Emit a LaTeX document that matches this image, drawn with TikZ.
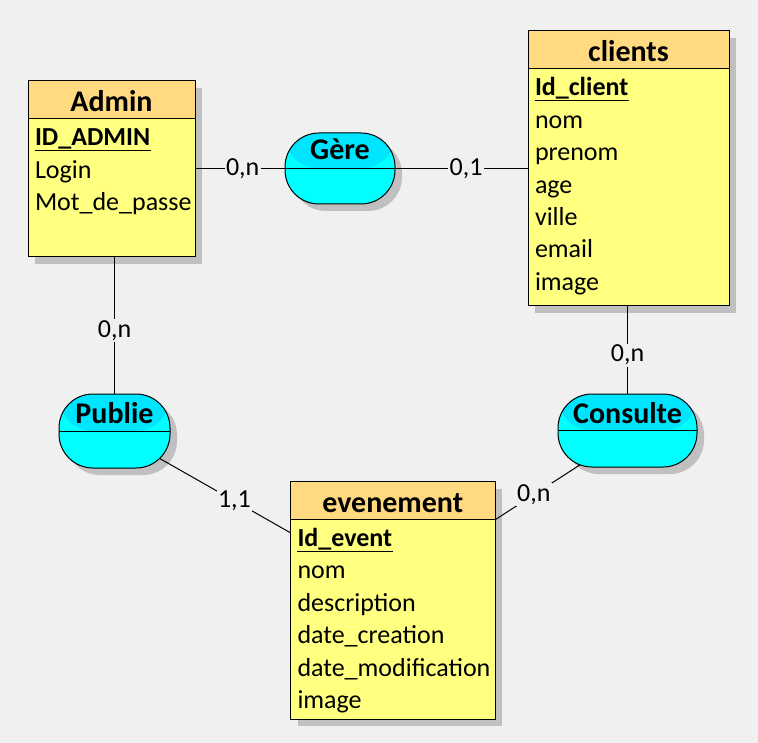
\documentclass[tikz,border=0pt]{standalone}
\usepackage{fontspec}
\setmainfont{Carlito}
\usetikzlibrary{calc,positioning,shadows}
\definecolor{fond}{RGB}{240,240,240}
\definecolor{orangeclair}{RGB}{255,218,128}
\definecolor{jaune}{RGB}{255,255,128}
\definecolor{cyanhaut}{RGB}{0,229,255}
\definecolor{cyanbas}{RGB}{0,255,255}
\definecolor{ombre}{RGB}{192,192,192}
\newcommand{\attfont}{\fontsize{26}{31}\selectfont}
\newcommand{\titfont}{\fontsize{30}{35}\selectfont\bfseries}
\tikzset{
  entite/.style     = {shape=rectangle, draw, fill=jaune, inner sep=0pt,
                       drop shadow={shadow xshift=7pt, shadow yshift=-7pt,
                                    fill=ombre, opacity=1}},
  titre/.style      = {shape=rectangle, draw, fill=orangeclair,
                       minimum height=38pt, inner sep=0pt,
                       text height=23pt, text depth=0pt, font=\titfont},
  attribut/.style   = {anchor=base west, inner sep=0pt, font=\attfont},
  cle/.style        = {attribut, font=\attfont\bfseries},
  assoc/.style      = {shape=rectangle, draw, fill=cyanbas, inner sep=0pt,
                       rounded corners=34pt,
                       drop shadow={shadow xshift=7pt, shadow yshift=-7pt,
                                    fill=ombre, opacity=1},
                       path picture={
                         \fill[cyanhaut] (path picture bounding box.north west)
                           rectangle (path picture bounding box.east);
                         \draw (path picture bounding box.west)
                           -- (path picture bounding box.east);}},
  assoctexte/.style = {anchor=base, inner sep=0pt, font=\titfont},
  card/.style       = {fill=fond, inner sep=1.5pt, font=\attfont}
}

\begin{document}
\begin{tikzpicture}[x=1pt, y=-1pt, line width=1pt]
  \fill[fond] (0,0) rectangle (758,743);
  \useasboundingbox (0,0) rectangle (758,743);

  % entites
  \node[entite, minimum width=167pt, minimum height=176pt] (admin) at (111.5,169) {};
  \node[titre, minimum width=167pt, anchor=north] (admin-h) at (admin.north) {Admin};
  \node[cle] (admin-0) at ($(admin.north west)+(7,65.5)$) {ID\_ADMIN};
  \foreach \a [count=\i] in {Login, Mot\_de\_passe}
    \node[attribut] (admin-\i) at ($(admin.north west)+(7,{65.5+32.4*\i})$) {\a};

  \node[entite, minimum width=201pt, minimum height=275pt] (clients) at (628.5,168.5) {};
  \node[titre, minimum width=201pt, anchor=north] (clients-h) at (clients.north) {clients};
  \node[cle] (clients-0) at ($(clients.north west)+(7,65.5)$) {Id\_client};
  \foreach \a [count=\i] in {nom, prenom, age, ville, email, image}
    \node[attribut] (clients-\i) at ($(clients.north west)+(7,{65.5+32.4*\i})$) {\a};

  \node[entite, minimum width=204.5pt, minimum height=237.5pt] (evenement) at (392.75,600.25) {};
  \node[titre, minimum width=204.5pt, anchor=north] (evenement-h) at (evenement.north) {evenement};
  \node[cle] (evenement-0) at ($(evenement.north west)+(7,65.5)$) {Id\_event};
  \foreach \a [count=\i] in {nom, description, date\_creation, date\_modification, image}
    \node[attribut] (evenement-\i) at ($(evenement.north west)+(7,{65.5+32.4*\i})$) {\a};

  % identifiants soulignes
  \foreach \n in {admin-0, clients-0, evenement-0}
    \draw ([yshift=-5pt]\n.base west) -- ([yshift=-5pt]\n.base east);

  % associations
  \node[assoc, minimum width=110pt, minimum height=71pt] (gere) at (340,168.5) {};
  \node[assoctexte] (gere-t) at ([yshift=-27pt]gere.north) {Gère};
  \node[assoc, minimum width=111pt, minimum height=74pt] (publie) at (114.5,431) {};
  \node[assoctexte] (publie-t) at ([yshift=-29.5pt]publie.north) {Publie};
  \node[assoc, minimum width=139pt, minimum height=73pt] (consulte) at (627.5,430.5) {};
  \node[assoctexte] (consulte-t) at ([yshift=-29.7pt]consulte.north) {Consulte};

  % points d'attache des liens obliques
  \coordinate (publie-s) at ($(publie.center)!52.8pt!(evenement.center)$);
  \coordinate (consulte-s) at ($(consulte.center)!58.6pt!(evenement.center)$);
  \coordinate (evenement-o) at ($(evenement.north west)+(0,51.5)$);
  \coordinate (evenement-e) at ($(evenement.north east)+(0,38.5)$);

  % liens et cardinalites
  \draw (admin.east |- gere.west) -- node[card, pos=.53] (card-1) {0,n} (gere.west);
  \draw (gere.east) -- node[card, pos=.534] (card-2) {0,1} (gere.east -| clients.west);
  \draw (admin.south -| publie.north) -- node[card, pos=.536] (card-3) {0,n} (publie.north);
  \draw (clients.south -| consulte.north) -- node[card, pos=.56] (card-4) {0,n} (consulte.north);
  \draw (publie-s) -- node[card, pos=.574] (card-5) {1,1} (evenement-o);
  \draw (consulte-s) -- node[card, pos=.547] (card-6) {0,n} (evenement-e);
\end{tikzpicture}
\end{document}
